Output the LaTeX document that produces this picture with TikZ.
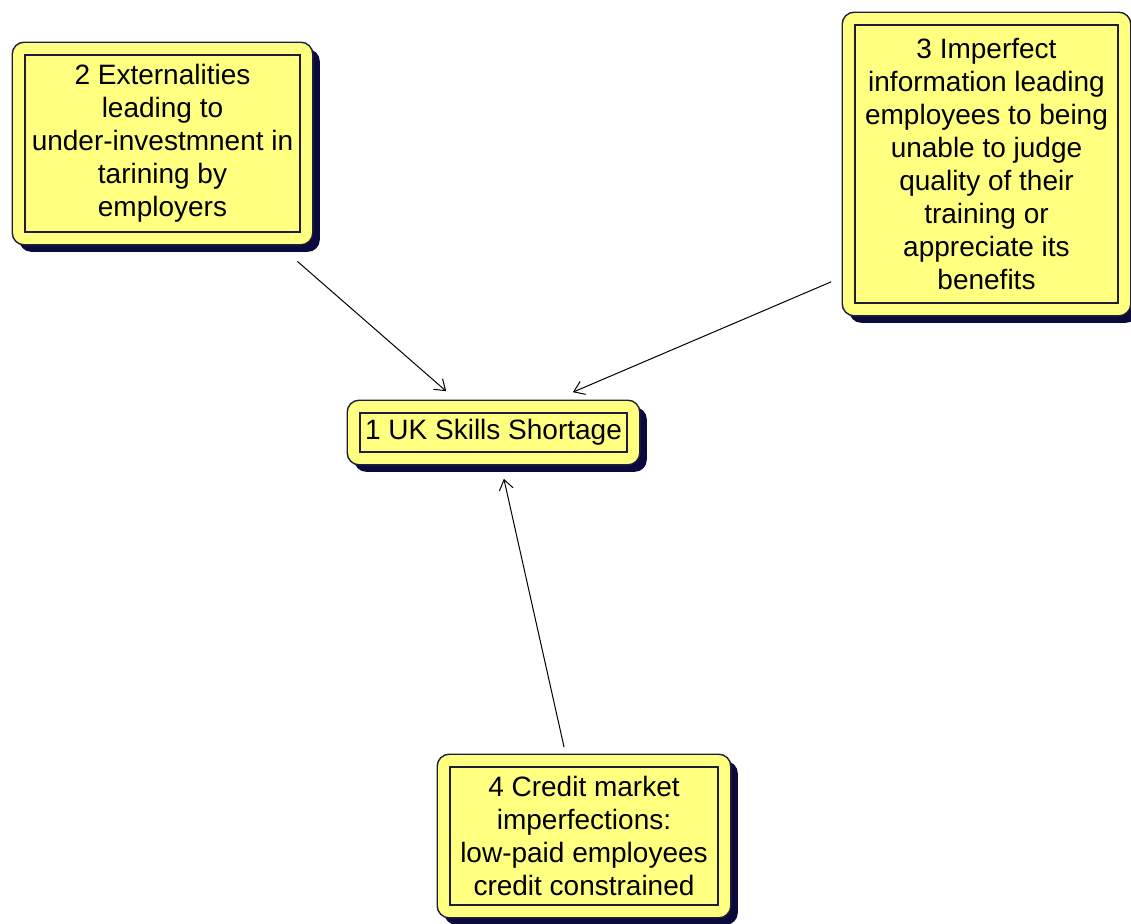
\documentclass[tikz,border=0pt]{standalone}
\usepackage{fontspec}
\setmainfont{Liberation Sans}
\usetikzlibrary{arrows.meta,backgrounds}
\definecolor{boxyellow}{RGB}{255,255,128}
\definecolor{boxshade}{RGB}{10,10,60}
\definecolor{boxline}{RGB}{30,30,60}

\begin{document}
\begin{tikzpicture}[x=0.5pt, y=-0.5pt,
    cause/.style={draw=boxline, line width=0.8pt, align=center, inner sep=0pt,
      font=\fontsize{14pt}{16.5pt}\selectfont},
    frame/.style={fill=boxyellow, draw=boxline, line width=0.7pt, rounded corners=6pt},
    shade/.style={fill=boxshade, rounded corners=6pt},
    link/.style={line width=0.5pt, -{Straight Barb[length=5pt, width=7pt]}}]
  \useasboundingbox (0,0) rectangle (1131,923);
  \node[cause, minimum width=133.5pt, minimum height=19.5pt] (n1) at (493.5,432.5) {1 UK Skills Shortage};
  \node[cause, minimum width=137.5pt, minimum height=88.5pt] (n2) at (162.5,143.5)
    {2 Externalities\\leading to\\under-investmnent in\\tarining by\\employers};
  \node[cause, minimum width=131.5pt, minimum height=139pt] (n3) at (986.5,164)
    {3 Imperfect\\information leading\\employees to being\\unable to judge\\quality of their\\training or\\appreciate its\\benefits};
  \node[cause, minimum width=134pt, minimum height=69pt] (n4) at (584,836)
    {4 Credit market\\imperfections:\\low-paid employees\\credit constrained};
  \begin{scope}[on background layer]
    \foreach \n in {n1, n2, n3, n4} {
      \fill[shade] ([shift={(-2.5pt,2.5pt)}]\n.north west) rectangle ([shift={(9.5pt,-9.5pt)}]\n.south east);
      \draw[frame] ([shift={(-6pt,6pt)}]\n.north west) rectangle ([shift={(6pt,-6pt)}]\n.south east);
      \fill[boxyellow] (\n.north west) rectangle (\n.south east);
    }
  \end{scope}
  \draw[link, shorten <=21.75pt, shorten >=16pt] (n2) -- (n1);
  \draw[link, shorten <=12.5pt, shorten >=25.5pt] ([yshift=-54pt]n3.west) -- ([xshift=16.25pt]n1.north);
  \draw[link, shorten <=9.75pt, shorten >=13.3pt] (n4) -- (n1);
\end{tikzpicture}
\end{document}
